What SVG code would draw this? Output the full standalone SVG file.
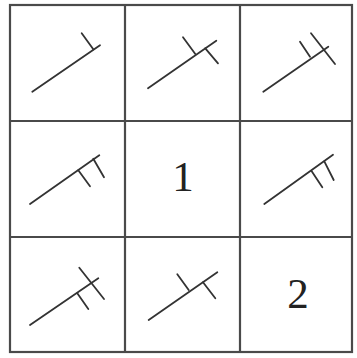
<svg xmlns="http://www.w3.org/2000/svg" width="357" height="358" viewBox="0 0 357 358">
<style>
.grid{fill:none;stroke:#4a4a4a;stroke-width:2.2}
.key{stroke:#333;stroke-width:1.8;stroke-linecap:round;fill:none}
.num{font-family:"Liberation Serif",serif;font-size:43px;fill:#222;text-anchor:middle}
</style>
<rect width="357" height="358" fill="#fff"/>
<g id="grid">
<rect class="grid" x="10" y="5" width="342" height="347"/>
<line class="grid" x1="125" y1="5" x2="125" y2="352"/>
<line class="grid" x1="240" y1="5" x2="240" y2="352"/>
<line class="grid" x1="10" y1="121" x2="352" y2="121"/>
<line class="grid" x1="10" y1="237" x2="352" y2="237"/>
</g>
<g id="cell-1-1" class="key">
<line x1="32.3" y1="91.7" x2="100" y2="45.3"/>
<line x1="81.7" y1="33.3" x2="93.3" y2="49.3"/>
</g>
<g id="cell-1-2" class="key">
<line x1="148" y1="88.3" x2="216.3" y2="40.7"/>
<line x1="183" y1="37.3" x2="195.3" y2="54"/>
<line x1="205.3" y1="48.3" x2="218" y2="63.3"/>
</g>
<g id="cell-1-3" class="key">
<line x1="263.3" y1="91.7" x2="328.3" y2="46.7"/>
<line x1="300" y1="41.7" x2="310" y2="56.7"/>
<line x1="311" y1="33.3" x2="335" y2="64"/>
</g>
<g id="cell-2-1" class="key">
<line x1="30" y1="204" x2="99.3" y2="155.3"/>
<line x1="78.3" y1="170.3" x2="90" y2="186.3"/>
<line x1="93.3" y1="158.7" x2="104" y2="177.3"/>
</g>
<g id="cell-2-2">
<text class="num" x="183" y="191">1</text>
</g>
<g id="cell-2-3" class="key">
<line x1="264.3" y1="204" x2="333" y2="154.7"/>
<line x1="311.7" y1="171.3" x2="322.3" y2="187.3"/>
<line x1="324.3" y1="161.3" x2="333.7" y2="180"/>
</g>
<g id="cell-3-1" class="key">
<line x1="30" y1="325" x2="98.3" y2="278.3"/>
<line x1="77.3" y1="293.3" x2="88.3" y2="309"/>
<line x1="79.3" y1="267.7" x2="104" y2="299"/>
</g>
<g id="cell-3-2" class="key">
<line x1="148.7" y1="320" x2="217.3" y2="272.3"/>
<line x1="177.3" y1="274.3" x2="188.7" y2="290"/>
<line x1="203" y1="282.3" x2="215.3" y2="298.3"/>
</g>
<g id="cell-3-3">
<text class="num" x="298" y="308">2</text>
</g>
</svg>
